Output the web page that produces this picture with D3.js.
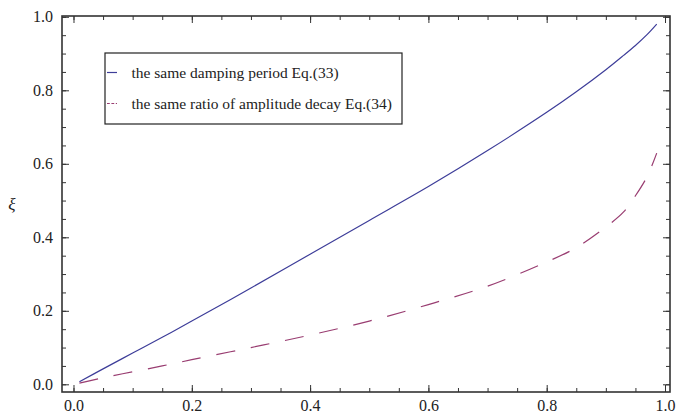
<!DOCTYPE html>
<html>
<head>
<meta charset="utf-8">
<script src="https://cdn.jsdelivr.net/npm/d3@7"></script>
<style>
  body { margin: 0; background: #fff; }
  svg text { font-family: "Liberation Serif", "Times New Roman", Times, serif; fill: #222; }
</style>
</head>
<body>
<div id="chart"></div>
<script>
// values
const alpha = [0.01, 0.05, 0.1, 0.15, 0.2, 0.3, 0.4, 0.5, 0.6, 0.7, 0.8, 0.85, 0.9, 0.93, 0.95, 0.97, 0.986];
const samePeriod = [0.007, 0.042, 0.085, 0.128, 0.172, 0.262, 0.354, 0.446, 0.538, 0.636, 0.740, 0.796, 0.856, 0.895, 0.922, 0.952, 0.980];
const sameDecay = [0.003, 0.018, 0.034, 0.050, 0.067, 0.100, 0.134, 0.172, 0.217, 0.267, 0.333, 0.372, 0.428, 0.469, 0.513, 0.566, 0.629];
const majorTicks = [0, 0.2, 0.4, 0.6, 0.8, 1.0];
const minorTicks = d3.range(0, 21).map(i => i * 0.05);
const seriesNames = ["the same damping period Eq.(33)", "the same ratio of amplitude decay Eq.(34)"];
const yLabel = "ξ";

const W = 676, H = 419;
const frame = { left: 62, right: 670, top: 16, bottom: 392 };

const svg = d3.select("#chart").append("svg")
    .attr("width", W)
    .attr("height", H);

// x(0)=73.5, x(1)=665 ; y(0)=384.3, y(1)=16.8
const x = d3.scaleLinear().domain([-0.01944, 1.00845]).range([frame.left, frame.right]);
const y = d3.scaleLinear().domain([-0.02095, 1.0022]).range([frame.bottom, frame.top]);

// axes: major ticks with labels, minor ticks without, on all four sides
function styleAxis(g) {
    g.select(".domain").remove();
    g.selectAll(".tick line").attr("stroke", "#333").attr("stroke-width", 1);
    g.selectAll("text").attr("font-size", 16).attr("fill", "#222")
        .attr("font-family", null);
}

const fmt = d3.format(".1f");

svg.append("g").attr("transform", `translate(0,${frame.bottom})`)
    .call(d3.axisBottom(x).tickValues(minorTicks).tickSize(-4).tickFormat(""))
    .call(styleAxis);
svg.append("g").attr("transform", `translate(0,${frame.bottom})`)
    .call(d3.axisBottom(x).tickValues(majorTicks).tickSize(-7).tickPadding(8).tickFormat(fmt))
    .call(styleAxis);
svg.append("g").attr("transform", `translate(0,${frame.top})`)
    .call(d3.axisTop(x).tickValues(minorTicks).tickSize(-4).tickFormat(""))
    .call(styleAxis);
svg.append("g").attr("transform", `translate(0,${frame.top})`)
    .call(d3.axisTop(x).tickValues(majorTicks).tickSize(-7).tickFormat(""))
    .call(styleAxis);

svg.append("g").attr("transform", `translate(${frame.left},0)`)
    .call(d3.axisLeft(y).tickValues(minorTicks).tickSize(-4).tickFormat(""))
    .call(styleAxis);
svg.append("g").attr("transform", `translate(${frame.left},0)`)
    .call(d3.axisLeft(y).tickValues(majorTicks).tickSize(-7).tickPadding(9).tickFormat(fmt))
    .call(styleAxis);
svg.append("g").attr("transform", `translate(${frame.right},0)`)
    .call(d3.axisRight(y).tickValues(minorTicks).tickSize(-4).tickFormat(""))
    .call(styleAxis);
svg.append("g").attr("transform", `translate(${frame.right},0)`)
    .call(d3.axisRight(y).tickValues(majorTicks).tickSize(-7).tickFormat(""))
    .call(styleAxis);

// frame
svg.append("rect")
    .attr("x", frame.left).attr("y", frame.top)
    .attr("width", frame.right - frame.left).attr("height", frame.bottom - frame.top)
    .attr("fill", "none")
    .attr("stroke", "#333")
    .attr("stroke-width", 1.6);

// curves
const line = d3.line()
    .x(d => x(d[0]))
    .y(d => y(d[1]))
    .curve(d3.curveCatmullRom.alpha(0.5));

svg.append("path")
    .datum(alpha.map((a, i) => [a, samePeriod[i]]))
    .attr("d", line)
    .attr("fill", "none")
    .attr("stroke", "#3d3d99")
    .attr("stroke-width", 1.2);

svg.append("path")
    .datum(alpha.map((a, i) => [a, sameDecay[i]]))
    .attr("d", line)
    .attr("fill", "none")
    .attr("stroke", "#993d71")
    .attr("stroke-width", 1.2)
    .attr("stroke-dasharray", "19,16");

// y label
svg.append("text")
    .attr("x", 12)
    .attr("y", 210)
    .attr("text-anchor", "middle")
    .attr("font-size", 17)
    .attr("font-style", "italic")
    .text(yLabel);

// legend
const legend = svg.append("g").attr("transform", "translate(105,53)");
legend.append("rect")
    .attr("width", 297).attr("height", 71)
    .attr("fill", "#fff")
    .attr("stroke", "#222")
    .attr("stroke-width", 1.2);

const legendStyles = [
    { color: "#3d3d99", dash: null },
    { color: "#993d71", dash: "2.8,1.6" }
];
seriesNames.forEach(function (name, i) {
    const ly = 19.5 + i * 31;
    legend.append("line")
        .attr("x1", 2).attr("x2", 12)
        .attr("y1", ly).attr("y2", ly)
        .attr("stroke", legendStyles[i].color)
        .attr("stroke-width", 1.2)
        .attr("stroke-dasharray", legendStyles[i].dash);
    legend.append("text")
        .attr("x", 26.5)
        .attr("y", ly + 5)
        .attr("font-size", 15.5)
        .text(name);
});
</script>
</body>
</html>
